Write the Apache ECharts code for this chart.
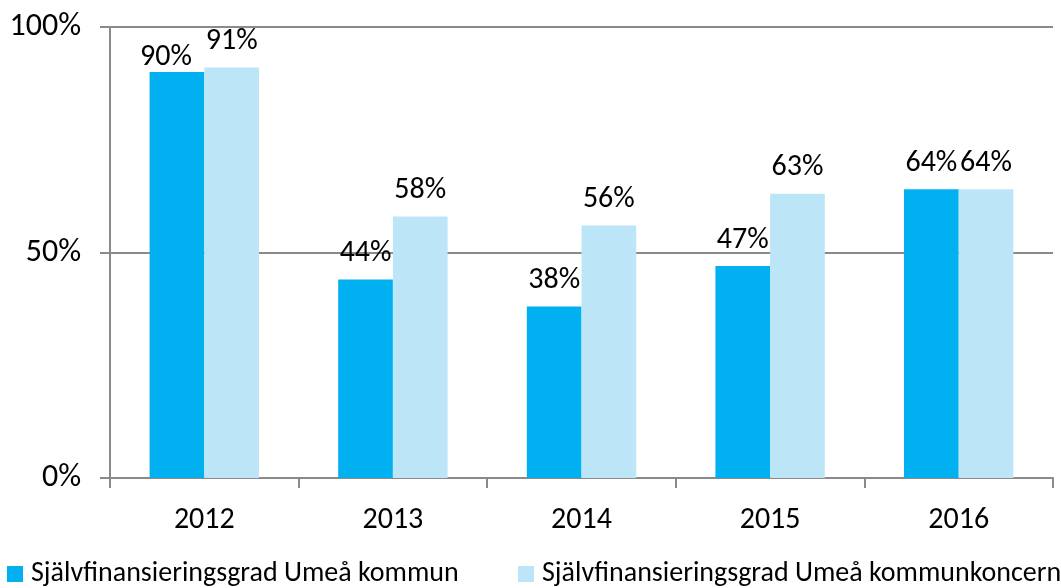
<!DOCTYPE html>
<html>
<head>
<meta charset="utf-8">
<script src="https://cdn.jsdelivr.net/npm/echarts@6/dist/echarts.min.js"></script>
<style>
  html, body { margin: 0; padding: 0; background: #fff; }
  #chart { width: 1061px; height: 588px; }
</style>
</head>
<body>
<div id="chart"></div>
<script>
// Self-financing ratio per year, in percent
const years = ['2012', '2013', '2014', '2015', '2016'];
const kommun = [90, 44, 38, 47, 64];
const koncern = [91, 58, 56, 63, 64];
const seriesNames = ['Självfinansieringsgrad Umeå kommun', 'Självfinansieringsgrad Umeå kommunkoncern'];
const yTicks = [0, 50, 100];

const FONT = 'Carlito, Lato, "Open Sans", sans-serif';
const AXIS_GREY = '#8a8a8a';

const chart = echarts.init(document.getElementById('chart'));

const labelStyle = {
  show: true,
  position: 'top',
  distance: 11,
  formatter: '{c}%',
  color: '#000',
  fontSize: 30,
  fontFamily: FONT
};

// In 2012 both bars are nearly equal height, so the first label is tucked
// lower and a little to the left to keep it clear of its neighbour.
const kommunData = kommun.map((v, i) =>
  i === 0 ? { value: v, label: { distance: 0, offset: [-11, 0] } } : v
);

const legendText = { fontSize: 28, fontFamily: FONT, color: '#000', padding: [0, 0, 0, 3] };

chart.setOption({
  animation: false,
  grid: { left: 110, right: 8, top: 27, bottom: 110 },
  legend: [
    {
      data: [seriesNames[0]],
      left: 2, top: 555,
      icon: 'rect', itemWidth: 16, itemHeight: 16,
      textStyle: legendText
    },
    {
      data: [seriesNames[1]],
      left: 513, top: 555,
      icon: 'rect', itemWidth: 16, itemHeight: 16,
      textStyle: legendText
    }
  ],
  xAxis: {
    type: 'category',
    data: years,
    axisLine: { lineStyle: { color: AXIS_GREY, width: 2 } },
    axisTick: { show: true, length: 10, lineStyle: { color: AXIS_GREY, width: 2 } },
    axisLabel: { fontSize: 30, fontFamily: FONT, color: '#000', margin: 27 }
  },
  yAxis: {
    type: 'value',
    min: yTicks[0],
    max: yTicks[yTicks.length - 1],
    interval: yTicks[1] - yTicks[0],
    axisLine: { show: true, lineStyle: { color: AXIS_GREY, width: 2 } },
    axisTick: { show: true, length: 10, lineStyle: { color: AXIS_GREY, width: 2 } },
    splitLine: { show: true, lineStyle: { color: AXIS_GREY, width: 2 } },
    axisLabel: { formatter: '{value}%', fontSize: 32, fontFamily: FONT, color: '#000', margin: 29 }
  },
  series: [
    {
      name: seriesNames[0],
      type: 'bar',
      data: kommunData,
      barGap: '0%',
      barCategoryGap: '42%',
      itemStyle: { color: '#00b0f0' },
      label: labelStyle
    },
    {
      name: seriesNames[1],
      type: 'bar',
      data: koncern,
      itemStyle: { color: '#bde5f8' },
      label: labelStyle
    }
  ]
});
</script>
</body>
</html>
